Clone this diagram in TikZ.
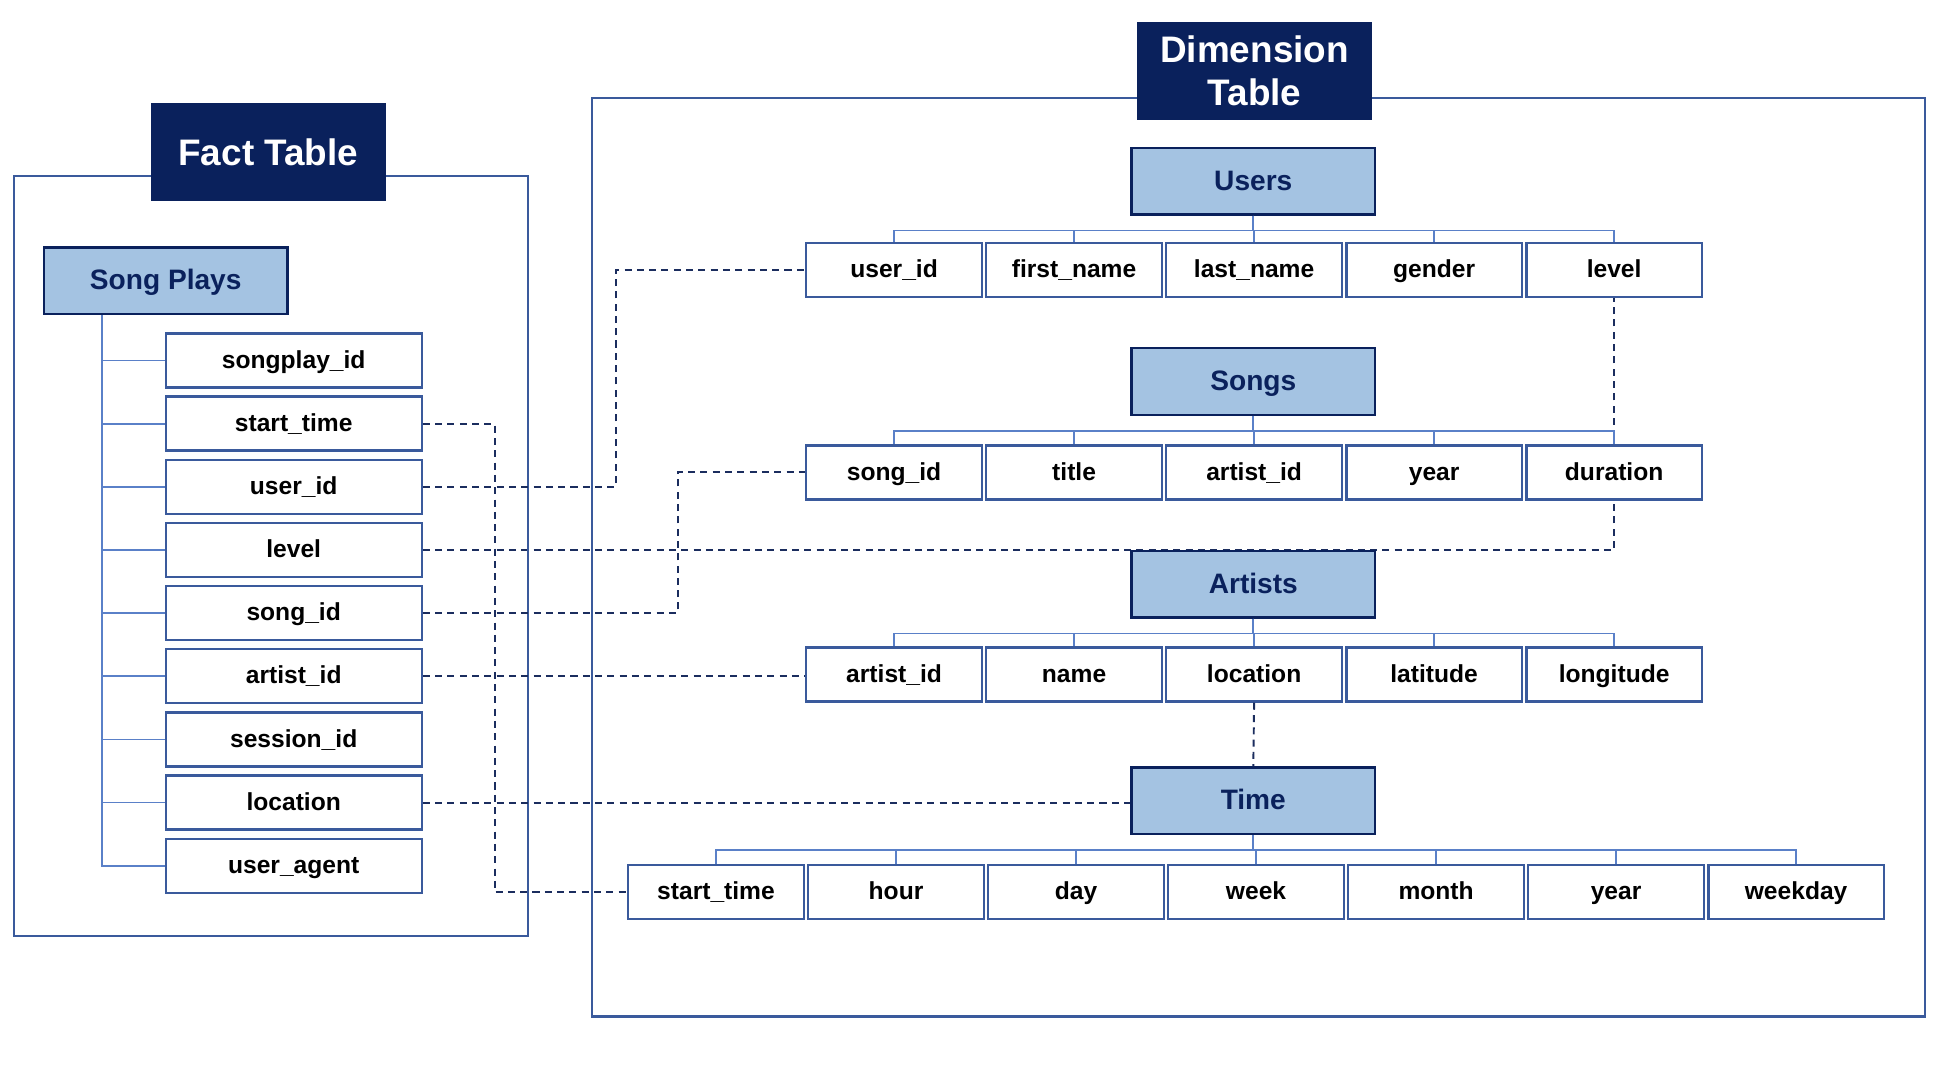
\documentclass[tikz,border=0pt]{standalone}
\usepackage{fontspec}
\setmainfont{Liberation Sans}
\usepackage{tikz}
\usetikzlibrary{positioning, backgrounds}

\definecolor{clnavy}{HTML}{0A215C}
\definecolor{clhead}{HTML}{A4C3E2}
\definecolor{clfield}{HTML}{3A5A9C}
\definecolor{cltree}{HTML}{5A80C8}
\definecolor{cldash}{HTML}{1B2D5E}

\begin{document}
\begin{tikzpicture}[x=0.2473mm, y=-0.2473mm, on grid,
  titlebox/.style={fill=clnavy, text=white, minimum width=47mm, minimum height=19.6mm, inner sep=0pt, align=center, font=\bfseries\fontsize{21}{24.5}\selectfont},
  tablehead/.style={draw=clnavy, line width=1.3pt, fill=clhead, text=clnavy, minimum width=48.7mm, minimum height=13.3mm, inner sep=0pt, text height=11.6pt, text depth=1.2pt, font=\bfseries\fontsize{16}{18}\selectfont},
  fieldbox/.style={draw=clfield, line width=1.3pt, fill=white, minimum width=35.1mm, minimum height=10.8mm, inner sep=0pt, text height=10.5pt, text depth=1.7pt, font=\bfseries\fontsize{14}{16}\selectfont},
  factbox/.style={fieldbox, minimum width=51.2mm},
  groupframe/.style={draw=clfield, line width=1.2pt},
  branch/.style={draw=cltree, line width=1pt},
  joinline/.style={draw=cldash, line width=1.1pt, dash pattern=on 4pt off 3pt}]
\useasboundingbox (0,0) rectangle (1568,864);

% frames and titles
\draw[groupframe] (11,142) rectangle (427,757);
\draw[groupframe] (479,79) rectangle (1557,822);
\node[titlebox] (fact) at (217,123) {Fact Table};
\node[titlebox] (dim) at (1014.5,57.5) {Dimension\\Table};

% fact table
\node[tablehead] (songplays) at (134,227) {Song Plays};
\node[factbox] (f1) at (237.5,291.5) {songplay\_id};
\foreach \n/\t [remember=\n as \p (initially f1)] in {f2/start\_time, f3/user\_id, f4/level, f5/song\_id, f6/artist\_id, f7/session\_id, f8/location, f9/user\_agent}
  \node[factbox, below=12.63mm of \p] (\n) {\t};
\draw[branch] (songplays.south west) ++(48,0) coordinate (spstem) |- (f9.west);
\foreach \i in {1,...,8}
  \draw[branch] (spstem |- f\i.west) -- (f\i.west);

% dimension tables
\node[tablehead] (users) at (1013.5,146.5) {Users};
\node[fieldbox] (u1) at (723,218.5) {user\_id};
\foreach \n/\t [remember=\n as \p (initially u1)] in {u2/first\_name, u3/last\_name, u4/gender, u5/level}
  \node[fieldbox, right=36mm of \p] (\n) {\t};

\node[tablehead] (songs) at (1013.5,308.5) {Songs};
\node[fieldbox] (s1) at (723,382) {song\_id};
\foreach \n/\t [remember=\n as \p (initially s1)] in {s2/title, s3/artist\_id, s4/year, s5/duration}
  \node[fieldbox, right=36mm of \p] (\n) {\t};

\node[tablehead] (artists) at (1013.5,472.5) {Artists};
\node[fieldbox] (a1) at (723,545.5) {artist\_id};
\foreach \n/\t [remember=\n as \p (initially a1)] in {a2/name, a3/location, a4/latitude, a5/longitude}
  \node[fieldbox, right=36mm of \p] (\n) {\t};

\node[tablehead] (time) at (1013.5,647.5) {Time};
\node[fieldbox] (t1) at (579,721.5) {start\_time};
\foreach \n/\t [remember=\n as \p (initially t1)] in {t2/hour, t3/day, t4/week, t5/month, t6/year, t7/weekday}
  \node[fieldbox, right=36mm of \p] (\n) {\t};

\foreach \h/\r/\k in {users/u/5, songs/s/5, artists/a/5, time/t/7}
  \foreach \i in {1,...,\k}
    \draw[branch] (\h.south) -- ++(0,12) -| (\r\i.north);

% keys
\begin{scope}[on background layer]
\draw[joinline] (f4.east) -| (u5.south);
\end{scope}
\draw[joinline] (f2.east) -- ++(58,0) |- (t1.west);
\draw[joinline] (f3.east) -- ++(156,0) |- (u1.west);
\draw[joinline] (f5.east) -- ++(206,0) |- (s1.west);
\draw[joinline] (f6.east) -- (f6.east -| a1.west);
\draw[joinline] (f8.east) -- (f8.east -| time.west);
\draw[joinline] (a3.south) -- (time.north);
\end{tikzpicture}
\end{document}
